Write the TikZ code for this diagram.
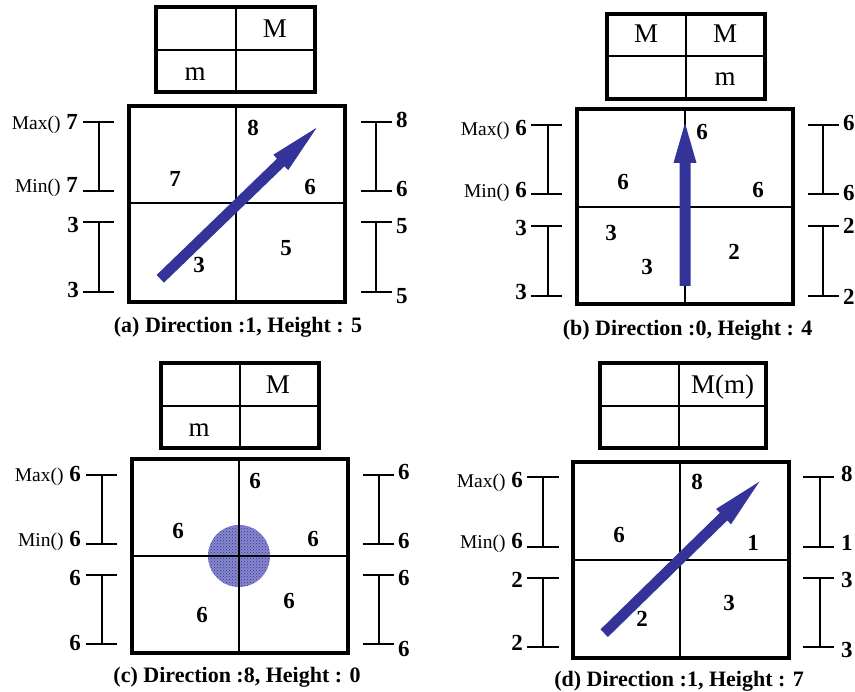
\documentclass[tikz,border=0pt]{standalone}
\usepackage{fontspec}
\setmainfont{Liberation Serif}
\usetikzlibrary{calc,patterns}
\definecolor{arrowblue}{RGB}{51,51,153}
\definecolor{dotbase}{RGB}{135,135,205}
\newcommand\myNum{\fontsize{23}{23}\selectfont\bfseries}
\newcommand\myTbl{\fontsize{27}{27}\selectfont}
\newcommand\myMM{\fontsize{19.5}{19.5}\selectfont\mdseries}
\newcommand\myCap{\fontsize{22}{22}\selectfont\bfseries}
% fat arrow: #1 tail, #2 tip, #3 half shaft, #4 half head, #5 head length (dimensions)
\newcommand\fatarrow[5]{%
  \coordinate (fab) at ($(#2)!#5!(#1)$);
  \fill[arrowblue] ($(#1)!#3!90:(#2)$) -- ($(fab)!#3!90:(#2)$) -- ($(fab)!#4!90:(#2)$) -- (#2)
    -- ($(fab)!#4!-90:(#2)$) -- ($(fab)!#3!-90:(#2)$) -- ($(#1)!#3!-90:(#2)$) -- cycle;}
% bracket: #1 x tick start, #2 x tick end, #3 x vertical, #4..#7 y values
\newcommand\brk[7]{%
  \draw[brline] (#1,#4) -- (#2,#4) (#1,#5) -- (#2,#5) (#3,#4) -- (#3,#5);
  \draw[brline] (#1,#6) -- (#2,#6) (#1,#7) -- (#2,#7) (#3,#6) -- (#3,#7);}
\begin{document}
\begin{tikzpicture}[x=1pt,y=-1pt,
  outer/.style={line width=3.3pt},
  inner/.style={line width=1.2pt},
  brline/.style={line width=1.1pt},
  num/.style={inner sep=0pt,font=\myNum},
  tbl/.style={inner sep=0pt,anchor=base,font=\myTbl},
  ll/.style={inner sep=0pt,anchor=base east,font=\myNum},
  rl/.style={inner sep=0pt,anchor=base west,font=\myNum},
  captxt/.style={inner sep=0pt,anchor=base,font=\myCap}]
\useasboundingbox (0,0) rectangle (855,692);
\fill[white] (0,0) rectangle (855,692);

% ================= (a) =================
\draw[inner] (236,7) -- (236,92) (156,50) -- (315,50);
\draw[outer] (156,7) rectangle (315,92);
\node[tbl] (aM) at (275,38) {M};
\node[tbl] (am) at (195,81) {m};
\draw[inner] (236,106) -- (236,302) (129,203) -- (345,203);
\draw[outer] (129,106) rectangle (345,302);
\coordinate (atail) at (160.3,278.8);
\coordinate (atip) at (316.7,127.7);
\fatarrow{atail}{atip}{5.3pt}{10.7pt}{50pt}
\node[num] (a1) at (253,128) {8};
\node[num] (a2) at (175,179) {7};
\node[num] (a3) at (310,187) {6};
\node[num] (a4) at (286,248) {5};
\node[num] (a5) at (199,265) {3};
\brk{83}{114}{99}{122}{191}{222}{292}
\brk{361}{392}{376}{122}{191}{222}{292}
\node[ll] (aL1) at (78,130) {{\myMM Max()} 7};
\node[ll] (aL2) at (78,193) {{\myMM Min()} 7};
\node[ll] (aL3) at (79,233) {3};
\node[ll] (aL4) at (79,298) {3};
\node[rl] (aR1) at (396,128) {8};
\node[rl] (aR2) at (396,197) {6};
\node[rl] (aR3) at (396,234) {5};
\node[rl] (aR4) at (396,304) {5};
\node[captxt] (acap) at (238,333) {(a) Direction :1, Height : 5};

% ================= (b) =================
\draw[inner] (686,14) -- (686,99) (607,56) -- (765,56);
\draw[outer] (607,14) rectangle (765,99);
\node[tbl] (bM1) at (646,43) {M};
\node[tbl] (bM2) at (725,43) {M};
\node[tbl] (bm) at (725,86) {m};
\draw[inner] (685,109) -- (685,304) (577,207) -- (793,207);
\draw[outer] (577,109) rectangle (793,304);
\coordinate (btail) at (685,286);
\coordinate (btip) at (685,123);
\fatarrow{btail}{btip}{5.5pt}{11.5pt}{40pt}
\node[num] (b1) at (702,132) {6};
\node[num] (b2) at (623,182) {6};
\node[num] (b3) at (758,190) {6};
\node[num] (b4) at (611,233) {3};
\node[num] (b5) at (647,267) {3};
\node[num] (b6) at (734,252) {2};
\brk{531}{562}{548}{125}{194}{226}{296}
\brk{808}{839}{823}{125}{194}{226}{296}
\node[ll] (bL1) at (527,136) {{\myMM Max()} 6};
\node[ll] (bL2) at (527,198) {{\myMM Min()} 6};
\node[ll] (bL3) at (527,236) {3};
\node[ll] (bL4) at (527,300) {3};
\node[rl] (bR1) at (843,131) {6};
\node[rl] (bR2) at (843,201) {6};
\node[rl] (bR3) at (843,234) {2};
\node[rl] (bR4) at (843,305) {2};
\node[captxt] (bcap) at (687.5,336) {(b) Direction :0, Height : 4};

% ================= (c) =================
\draw[inner] (240,363) -- (240,448) (161,406) -- (319,406);
\draw[outer] (161,363) rectangle (319,448);
\node[tbl] (cM) at (278,394) {M};
\node[tbl] (cm) at (199,437) {m};
\fill[dotbase] (239,556) circle (31);
\fill[pattern=crosshatch dots,pattern color=arrowblue] (239,556) circle (31);
\draw[inner] (239,459) -- (239,653) (132,556) -- (348,556);
\draw[outer] (132,459) rectangle (348,653);
\node[num] (c1) at (255,481) {6};
\node[num] (c2) at (178,531) {6};
\node[num] (c3) at (313,539) {6};
\node[num] (c4) at (289,601) {6};
\node[num] (c5) at (202,615) {6};
\brk{86}{117}{102}{475}{544}{575}{644}
\brk{363}{394}{379}{475}{544}{575}{644}
\node[ll] (cL1) at (81,482) {{\myMM Max()} 6};
\node[ll] (cL2) at (81,547) {{\myMM Min()} 6};
\node[ll] (cL3) at (81,586) {6};
\node[ll] (cL4) at (81,650) {6};
\node[rl] (cR1) at (398,480) {6};
\node[rl] (cR2) at (398,549) {6};
\node[rl] (cR3) at (398,586) {6};
\node[rl] (cR4) at (398,656) {6};
\node[captxt] (ccap) at (237,682.5) {(c) Direction :8, Height : 0};

% ================= (d) =================
\draw[inner] (679,363) -- (679,448) (600,406) -- (766,406);
\draw[outer] (600,363) rectangle (766,448);
\node[tbl] (dM) at (722.7,394) {M(m)};
\draw[inner] (680,462) -- (680,658) (573,560) -- (789,560);
\draw[outer] (573,462) rectangle (789,658);
\coordinate (dtail) at (604.2,633.2);
\coordinate (dtip) at (759.3,481.7);
\fatarrow{dtail}{dtip}{5.3pt}{10.7pt}{50pt}
\node[num] (d1) at (697,482) {8};
\node[num] (d2) at (619,535) {6};
\node[num] (d3) at (753,543) {1};
\node[num] (d4) at (729,603) {3};
\node[num] (d5) at (642,619) {2};
\brk{527}{559}{543}{477}{547}{578}{647}
\brk{803}{834}{820}{477}{547}{578}{647}
\node[ll] (dL1) at (523,488) {{\myMM Max()} 6};
\node[ll] (dL2) at (523,549) {{\myMM Min()} 6};
\node[ll] (dL3) at (523,588) {2};
\node[ll] (dL4) at (523,651) {2};
\node[rl] (dR1) at (841,482) {8};
\node[rl] (dR2) at (841,551) {1};
\node[rl] (dR3) at (841,588) {3};
\node[rl] (dR4) at (841,658) {3};
\node[captxt] (dcap) at (679,686.5) {(d) Direction :1, Height : 7};
\end{tikzpicture}
\end{document}
